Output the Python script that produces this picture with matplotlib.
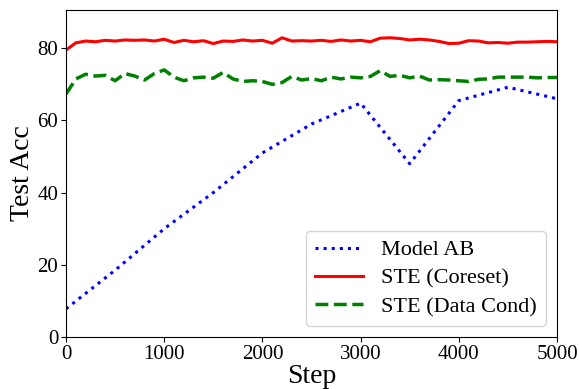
import matplotlib
matplotlib.use("Agg")
import matplotlib.pyplot as plt
import numpy as np

plt.rcParams['font.family'] = ['Liberation Serif', 'DejaVu Serif']

steps_ab = [0, 500, 1000, 1500, 2000, 2500, 3000, 3500, 4000, 4500, 5000]
model_ab = [7.8, 18.5, 30.0, 40.0, 51.0, 59.0, 64.8, 48.0, 65.5, 69.2, 66.0]

steps = list(range(0, 5001, 100))
ste_coreset = [79.5, 81.5, 82.0, 81.8, 82.2, 82.0, 82.3, 82.2, 82.3, 82.0,
               82.5, 81.6, 82.2, 81.8, 82.1, 81.3, 82.0, 81.9, 82.3, 82.0,
               82.2, 81.4, 82.9, 82.0, 82.1, 82.0, 82.2, 81.9, 82.3, 82.0,
               82.2, 81.8, 82.8, 82.9, 82.7, 82.3, 82.5, 82.3, 81.9, 81.3,
               81.4, 82.1, 82.0, 81.5, 81.6, 81.4, 81.7, 81.7, 81.8, 81.9,
               81.8]
ste_datacond = [67.3, 71.5, 72.8, 72.3, 72.5, 71.0, 73.0, 72.3, 71.2, 73.0,
                74.0, 72.0, 71.0, 71.8, 72.0, 71.7, 73.3, 71.5, 70.8, 71.0,
                70.8, 70.0, 70.5, 72.2, 71.2, 71.6, 71.0, 72.0, 71.5, 72.0,
                71.8, 72.2, 73.8, 72.2, 72.5, 71.8, 72.3, 71.2, 71.3, 71.2,
                71.0, 70.8, 71.4, 71.5, 72.0, 72.0, 72.0, 72.0, 71.8, 71.9,
                71.9]

fig = plt.figure(figsize=(5.79, 3.89), dpi=100)
ax = fig.add_axes([66/579, 1-337/389, (557-66)/579, (337-10)/389])

ax.plot(steps_ab, model_ab, color='blue', linestyle=':', linewidth=2.2, label='Model AB')
ax.plot(steps, ste_coreset, color='red', linestyle='-', linewidth=2.2, label='STE (Coreset)')
ax.plot(steps, ste_datacond, color='green', linestyle='--', linewidth=2.5, label='STE (Data Cond)')

ax.set_xlim(0, 5000)
ax.set_ylim(0, 90.6)
ax.set_xticks([0, 1000, 2000, 3000, 4000, 5000])
ax.set_yticks([0, 20, 40, 60, 80])
ax.tick_params(labelsize=15, pad=2)
ax.set_xlabel('Step', fontsize=20, labelpad=0)
ax.set_ylabel('Test Acc', fontsize=20, labelpad=2)
ax.legend(loc='lower right', fontsize=16, labelspacing=0.35, handlelength=2.2,
          borderaxespad=0.5)

fig.savefig('out.png', dpi=100)
